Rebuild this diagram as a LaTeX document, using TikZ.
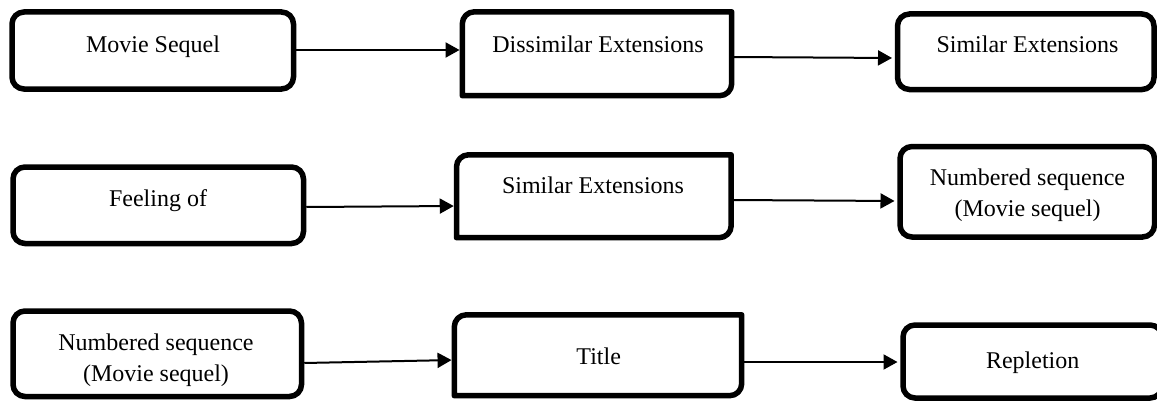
\documentclass[tikz,border=0pt]{standalone}
\usepackage{fontspec}
\setmainfont{Liberation Serif}
\usetikzlibrary{arrows.meta}

\tikzset{
    box/.style = {draw, line width=5.5pt, rounded corners=12pt, inner sep=0pt},
    halfbox/.style = {inner sep=0pt},
    boxline/.style = {line width=5.5pt, line join=round},
    txt/.style = {font=\fontsize{24}{31}\selectfont, inner sep=0pt, align=center},
    flow/.style = {line width=2pt, shorten >=2.75pt, -{Triangle[length=14pt,width=15pt]}}
}

\begin{document}
\begin{tikzpicture}[x=1pt, y=1pt]
    \useasboundingbox (0,0) rectangle (1157,400);

    % top row
    \node[box, minimum width=281.5pt, minimum height=77pt] (sequel) at (152.75,349.5) {};
    \node[halfbox, minimum width=269pt, minimum height=83.5pt] (dissim) at (597,346.25) {};
    \node[box, minimum width=256.5pt, minimum height=75.5pt] (simA) at (1025.75,348.25) {};

    \draw[boxline] (dissim.south west) -- ([yshift=-12]dissim.north west) arc[start angle=180, end angle=90, radius=12] -- (dissim.north east) -- ([yshift=12]dissim.south east) arc[start angle=0, end angle=-90, radius=12] -- cycle;

    \node[txt, anchor=base] (sequel-t) at (153,348) {Movie Sequel};
    \node[txt, anchor=base] (dissim-t) at (598,348) {Dissimilar Extensions};
    \node[txt, anchor=base] (simA-t) at (1027.5,348) {Similar Extensions};

    \draw[flow] ([yshift=0.5]sequel.east) -- ([yshift=3.75]dissim.west);
    \draw[flow] ([yshift=-3.25]dissim.east) -- ([yshift=-6.25]simA.west);

    % middle row
    \node[box, minimum width=290.5pt, minimum height=76.5pt] (feel) at (158.25,194.75) {};
    \node[halfbox, minimum width=274.3pt, minimum height=82.5pt] (simB) at (593.85,203.75) {};
    \node[box, minimum width=254.5pt, minimum height=90.5pt] (numA) at (1027.25,208.25) {};

    \draw[boxline] (simB.south west) -- ([yshift=-12]simB.north west) arc[start angle=180, end angle=90, radius=12] -- (simB.north east) -- ([yshift=12]simB.south east) arc[start angle=0, end angle=-90, radius=12] -- cycle;

    \node[txt, anchor=base] (feel-t) at (158,194) {Feeling of};
    \node[txt, anchor=base] (simB-t) at (593,206.7) {Similar Extensions};
    \node[txt] (numA-t) at (1027.5,205) {Numbered sequence\\(Movie sequel)};

    \draw[flow] ([yshift=-1.75]feel.east) -- ([yshift=-9.75]simB.west);
    \draw[flow] ([yshift=-3.75]simB.east) -- ([yshift=-9.25]numA.west);

    % bottom row
    \node[box, minimum width=288.5pt, minimum height=85.5pt] (numB) at (157.25,46.25) {};
    \node[halfbox, minimum width=287pt, minimum height=80.5pt] (title) at (598,44.75) {};
    \node[box, minimum width=259pt, minimum height=73pt] (repl) at (1032.5,38.5) {};

    \draw[boxline] (title.south west) -- ([yshift=-12]title.north west) arc[start angle=180, end angle=90, radius=12] -- (title.north east) -- ([yshift=12]title.south east) arc[start angle=0, end angle=-90, radius=12] -- cycle;

    \node[txt] (numB-t) at (156,40) {Numbered sequence\\(Movie sequel)};
    \node[txt, anchor=base] (title-t) at (598.7,36) {Title};
    \node[txt, anchor=base] (repl-t) at (1032.7,31.7) {Repletion};

    \draw[flow] ([yshift=-9.25]numB.east) -- ([yshift=-4.75]title.west);
    \draw[flow] ([yshift=-6.75]title.east) -- ([yshift=-0.5]repl.west);
\end{tikzpicture}
\end{document}
